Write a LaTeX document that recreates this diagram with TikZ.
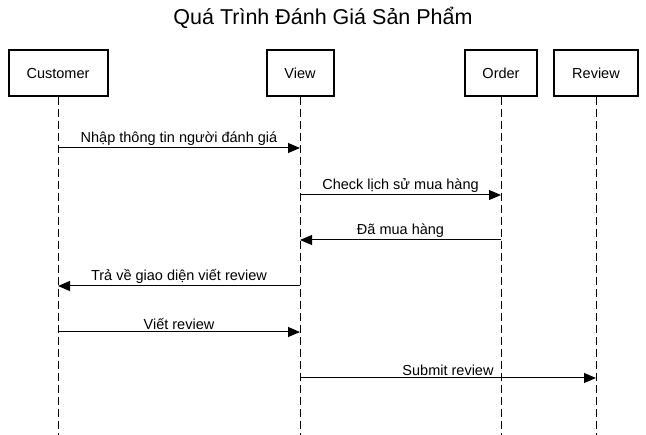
\documentclass[tikz,border=0pt]{standalone}
\usepackage{fontspec}
\setmainfont{Liberation Sans}
\usetikzlibrary{arrows.meta}
\begin{document}
\begin{tikzpicture}[x=1pt,y=-1pt,
  actor/.style={draw=black,line width=2pt,minimum height=46pt,inner sep=0pt,font=\fontsize{14.5}{17}\selectfont},
  life/.style={draw=black,line width=1pt,dash pattern=on 8pt off 4pt},
  msg/.style={draw=black,line width=1pt,-{Triangle[length=12pt,width=10pt]}},
  lbl/.style={font=\fontsize{14.5}{17}\selectfont,above,inner sep=2pt}]
\useasboundingbox (0,0) rectangle (646,435);
\node[font=\fontsize{21.5}{25}\selectfont] (title) at (323,18) {Quá Trình Đánh Giá Sản Phẩm};
\node[actor,minimum width=99pt] (cust) at (58,73.5) {Customer};
\node[actor,minimum width=67pt] (view) at (300,73.5) {View};
\node[actor,minimum width=72pt] (order) at (501,73.5) {Order};
\node[actor,minimum width=84pt] (rev) at (596,73.5) {Review};
\coordinate (custE) at (58,435);
\coordinate (viewE) at (300,435);
\coordinate (orderE) at (501,435);
\coordinate (revE) at (596,435);
\draw[life] (cust.south) -- (custE);
\draw[life] (view.south) -- (viewE);
\draw[life] (order.south) -- (orderE);
\draw[life] (rev.south) -- (revE);
% messages
\coordinate (c1) at (58,148); \coordinate (v1) at (300,148);
\coordinate (v2) at (300,195); \coordinate (o2) at (501,195);
\coordinate (o3) at (501,240); \coordinate (v3) at (300,240);
\coordinate (v4) at (300,286); \coordinate (c4) at (58,286);
\coordinate (c5) at (58,332); \coordinate (v5) at (300,332);
\coordinate (v6) at (300,378); \coordinate (r6) at (596,378);
\draw[msg] (c1) -- node[lbl] {Nhập thông tin người đánh giá} (v1);
\draw[msg] (v2) -- node[lbl] {Check lịch sử mua hàng} (o2);
\draw[msg] (o3) -- node[lbl] {Đã mua hàng} (v3);
\draw[msg] (v4) -- node[lbl] {Trả về giao diện viết review} (c4);
\draw[msg] (c5) -- node[lbl] {Viết review} (v5);
\draw[msg] (v6) -- node[lbl] {Submit review} (r6);
\end{tikzpicture}
\end{document}
